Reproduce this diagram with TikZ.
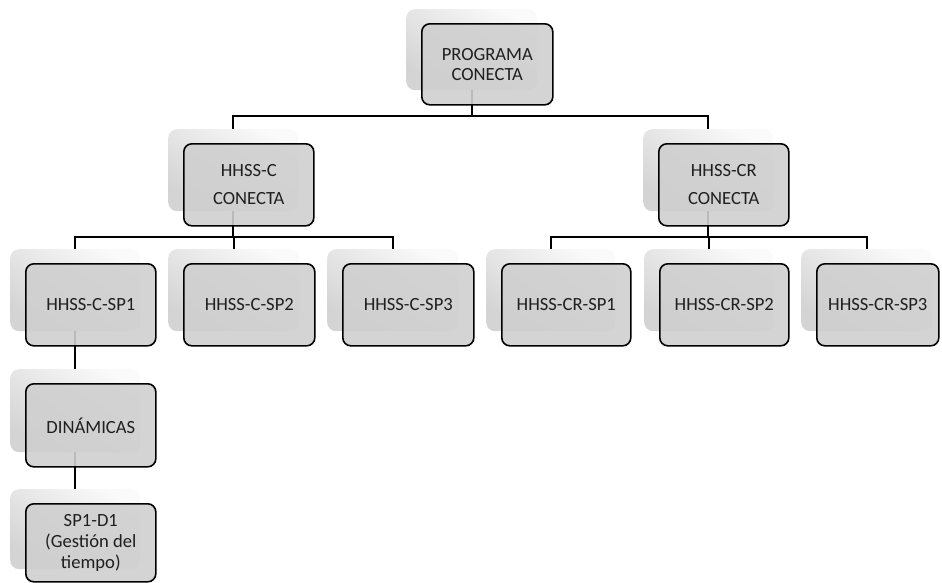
\documentclass[tikz,border=0pt]{standalone}
\usepackage{fontspec}
\setmainfont{Carlito}
\usetikzlibrary{calc}
\begin{document}
\begin{tikzpicture}[x=1pt,y=-1pt,
  card/.style={draw=black, line width=1.6pt, rounded corners=8pt, fill=black!19,
    fill opacity=0.9, text opacity=1, text=black!88, align=center, inner sep=0pt,
    anchor=north west, font=\fontsize{18.6}{20}\selectfont},
  halo/.style={rounded corners=9pt, inner sep=0pt, anchor=north west,
    shading=axis, top color=black!2, bottom color=black!17, shading angle=-35},
  link/.style={line width=1.6pt, draw=black}]
\useasboundingbox (0,0) rectangle (942,582);

% soft back panels
\node[halo, minimum width=131pt, minimum height=81pt] (pc-s)  at (406,9)   {};
\node[halo, minimum width=130pt, minimum height=82pt] (hc-s)  at (168,129) {};
\node[halo, minimum width=130pt, minimum height=82pt] (hcr-s) at (643,129) {};
\node[halo, minimum width=130pt, minimum height=82pt] (c1-s)  at (10,249)  {};
\node[halo, minimum width=131pt, minimum height=82pt] (c2-s)  at (168,249) {};
\node[halo, minimum width=131pt, minimum height=82pt] (c3-s)  at (327,249) {};
\node[halo, minimum width=129pt, minimum height=82pt] (r1-s)  at (486,249) {};
\node[halo, minimum width=129pt, minimum height=82pt] (r2-s)  at (644,249) {};
\node[halo, minimum width=131pt, minimum height=82pt] (r3-s)  at (801,249) {};
\node[halo, minimum width=130pt, minimum height=83pt] (din-s) at (10,369)  {};
\node[halo, minimum width=130pt, minimum height=80pt] (d1-s)  at (10,489)  {};

% connector rails
\coordinate (busA) at (0,116);
\coordinate (busB) at (0,237);

\draw[link] (pc-s.south) -- (pc-s.south |- busA);
\draw[link] (hc-s.north) |- (pc-s.south |- busA) -| (hcr-s.north);

\draw[link] (hc-s.south) -- (hc-s.south |- busB);
\draw[link] (c1-s.north) |- (c3-s.north |- busB) -- (c3-s.north);
\draw[link] (c2-s.north) -- (c2-s.north |- busB);

\draw[link] (hcr-s.south) -- (hcr-s.south |- busB);
\draw[link] (r1-s.north) |- (r3-s.north |- busB) -- (r3-s.north);
\draw[link] (r2-s.north) -- (r2-s.north |- busB);

\draw[link] (c1-s.south) -- (din-s.north);
\draw[link] (din-s.south) -- (d1-s.north);

% front cards
\node[card, minimum width=131pt, minimum height=81pt] (pc) at (421,23) {PROGRAMA\\CONECTA};
\node[card, minimum width=130pt, minimum height=82pt, font=\fontsize{18.6}{28}\selectfont] (hc) at (183,143) {HHSS-C\\CONECTA};
\node[card, minimum width=130pt, minimum height=82pt, font=\fontsize{18.6}{28}\selectfont] (hcr) at (658,143) {HHSS-CR\\CONECTA};
\node[card, minimum width=130pt, minimum height=82pt] (c1) at (25,263)  {HHSS-C-SP1};
\node[card, minimum width=131pt, minimum height=82pt] (c2) at (183,263) {HHSS-C-SP2};
\node[card, minimum width=131pt, minimum height=82pt] (c3) at (342,263) {HHSS-C-SP3};
\node[card, minimum width=129pt, minimum height=82pt] (r1) at (501,263) {HHSS-CR-SP1};
\node[card, minimum width=129pt, minimum height=82pt] (r2) at (659,263) {HHSS-CR-SP2};
\node[card, minimum width=122pt, minimum height=82pt] (r3) at (816,263) {HHSS-CR-SP3};
\node[card, minimum width=130pt, minimum height=83pt] (din) at (25,383) {DINÁMICAS};
\node[card, minimum width=130pt, minimum height=78pt, font=\fontsize{18.6}{21}\selectfont] (d1) at (25,503) {SP1-D1\\(Gestión del\\tiempo)};
\end{tikzpicture}
\end{document}
